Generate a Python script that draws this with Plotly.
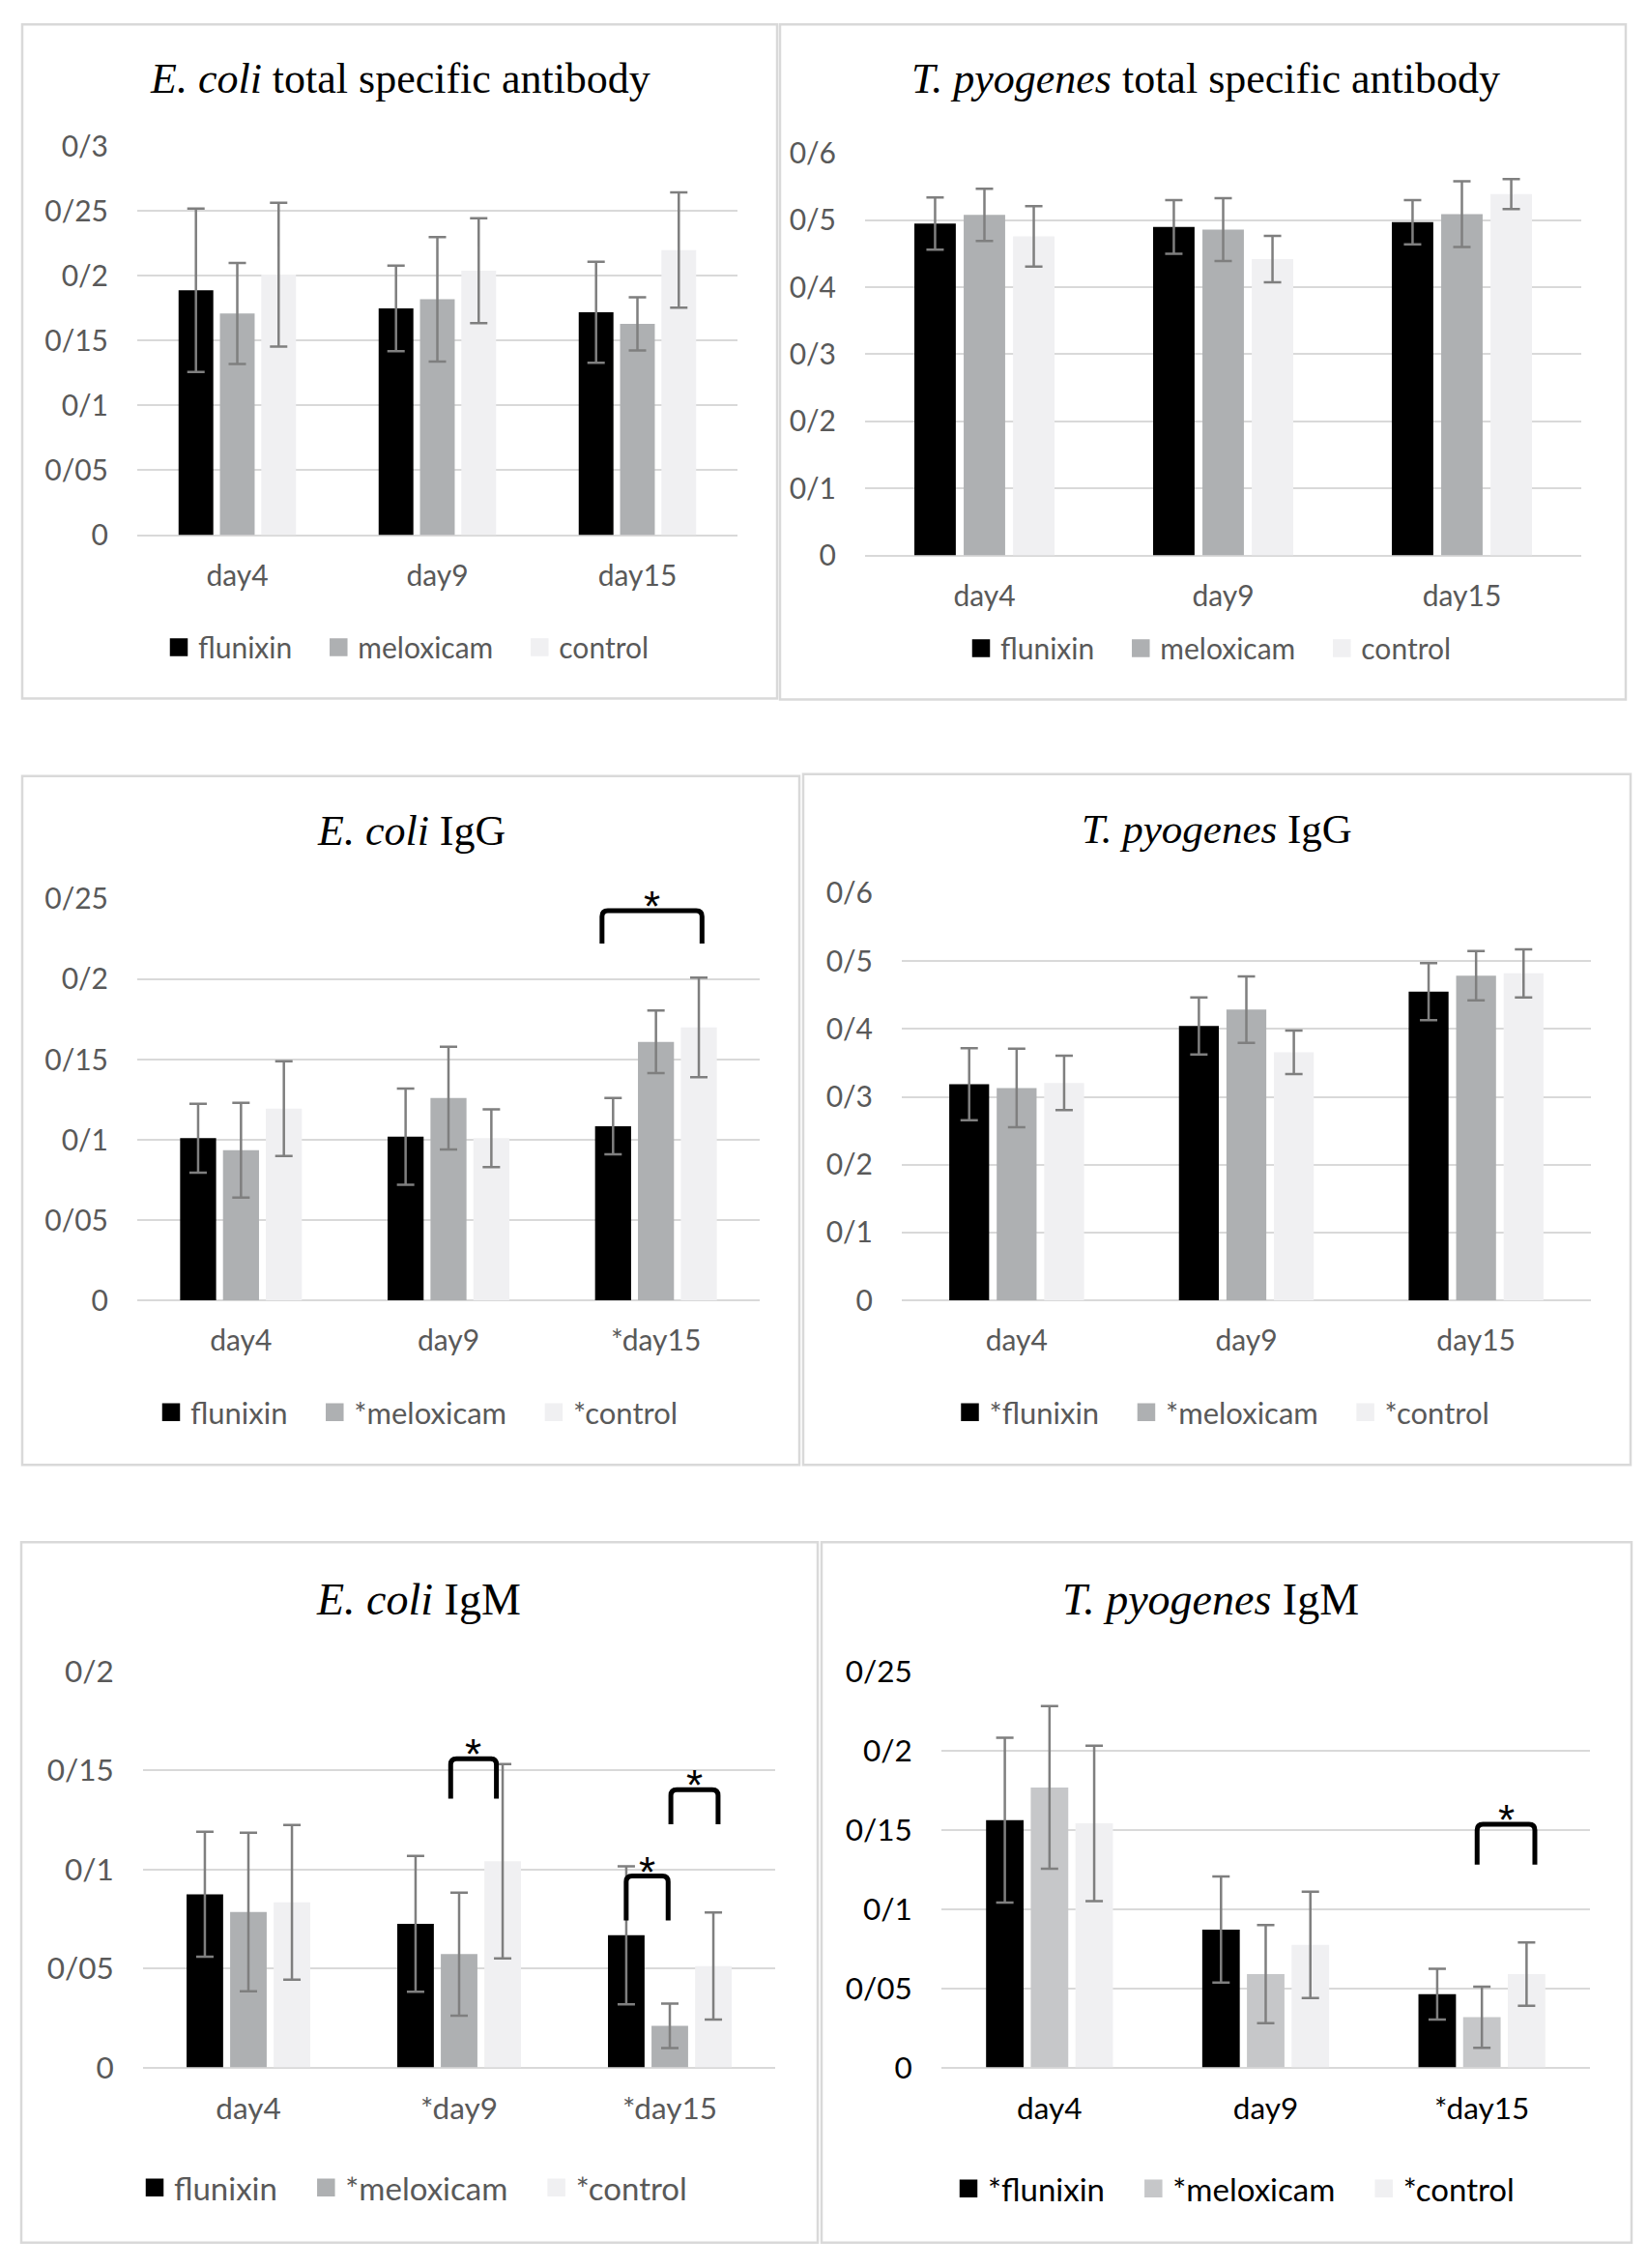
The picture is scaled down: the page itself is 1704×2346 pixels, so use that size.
import plotly.graph_objects as go

W, H = 1704, 2346
# the page body keeps its default 8px margin, so the figure is drawn 16px smaller
OFF = 8
FIG_W, FIG_H = W - 2 * OFF, H - 2 * OFF

######################## data ########################
days = ["day4", "day9", "day15"]
groups = ["flunixin", "meloxicam", "control"]

# E. coli total specific antibody
ecoli_total_flu = [0.189, 0.175, 0.172]
ecoli_total_flu_sd = [0.063, 0.033, 0.039]
ecoli_total_mel = [0.171, 0.182, 0.163]
ecoli_total_mel_sd = [0.039, 0.048, 0.0205]
ecoli_total_con = [0.201, 0.204, 0.220]
ecoli_total_con_sd = [0.0555, 0.0405, 0.0445]

# T. pyogenes total specific antibody
tpyo_total_flu = [0.495, 0.490, 0.497]
tpyo_total_flu_sd = [0.039, 0.040, 0.033]
tpyo_total_mel = [0.508, 0.486, 0.509]
tpyo_total_mel_sd = [0.039, 0.047, 0.049]
tpyo_total_con = [0.476, 0.442, 0.539]
tpyo_total_con_sd = [0.045, 0.0345, 0.0225]

# E. coli IgG
ecoli_igg_days = ["day4", "day9", "*day15"]
ecoli_igg_groups = ["flunixin", "*meloxicam", "*control"]
ecoli_igg_flu = [0.101, 0.102, 0.1085]
ecoli_igg_flu_sd = [0.0215, 0.030, 0.0175]
ecoli_igg_mel = [0.0935, 0.126, 0.161]
ecoli_igg_mel_sd = [0.0295, 0.032, 0.0195]
ecoli_igg_con = [0.1195, 0.101, 0.170]
ecoli_igg_con_sd = [0.0295, 0.018, 0.031]
ecoli_igg_br_x0 = [1.740]
ecoli_igg_br_x1 = [2.222]
ecoli_igg_br_top = [0.2428]
ecoli_igg_br_bot = [0.2223]

# T. pyogenes IgG
tpyo_igg_groups = ["*flunixin", "*meloxicam", "*control"]
tpyo_igg_flu = [0.3185, 0.4045, 0.455]
tpyo_igg_flu_sd = [0.053, 0.042, 0.042]
tpyo_igg_mel = [0.313, 0.4285, 0.4785]
tpyo_igg_mel_sd = [0.058, 0.049, 0.0365]
tpyo_igg_con = [0.3205, 0.3655, 0.482]
tpyo_igg_con_sd = [0.040, 0.032, 0.0355]

# E. coli IgM
ecoli_igm_days = ["day4", "*day9", "*day15"]
ecoli_igm_groups = ["flunixin", "*meloxicam", "*control"]
ecoli_igm_flu = [0.0874, 0.0725, 0.0667]
ecoli_igm_flu_sd = [0.0315, 0.0343, 0.0348]
ecoli_igm_mel = [0.0785, 0.0572, 0.021]
ecoli_igm_mel_sd = [0.040, 0.031, 0.0112]
ecoli_igm_con = [0.0833, 0.1041, 0.0512]
ecoli_igm_con_sd = [0.039, 0.049, 0.027]
ecoli_igm_br_x0 = [0.960, 2.005, 1.793]
ecoli_igm_br_x1 = [1.177, 2.229, 1.992]
ecoli_igm_br_top = [0.1558, 0.1401, 0.0966]
ecoli_igm_br_bot = [0.1357, 0.1227, 0.0742]

# T. pyogenes IgM
tpyo_igm_days = ["day4", "day9", "*day15"]
tpyo_igm_groups = ["*flunixin", "*meloxicam", "*control"]
tpyo_igm_flu = [0.156, 0.087, 0.0462]
tpyo_igm_flu_sd = [0.052, 0.0334, 0.016]
tpyo_igm_mel = [0.1766, 0.0589, 0.0317]
tpyo_igm_mel_sd = [0.0513, 0.031, 0.0193]
tpyo_igm_con = [0.154, 0.0773, 0.0589]
tpyo_igm_con_sd = [0.049, 0.0335, 0.020]
tpyo_igm_br_x0 = [1.978]
tpyo_igm_br_x1 = [2.245]
tpyo_igm_br_top = [0.1534]
tpyo_igm_br_bot = [0.128]

######################## panel setup ########################
GRAY = "#595959"
panels = [
    dict(title="<i>E. coli</i> total specific antibody", days=days, groups=groups,
         means=[ecoli_total_flu, ecoli_total_mel, ecoli_total_con],
         sds=[ecoli_total_flu_sd, ecoli_total_mel_sd, ecoli_total_con_sd],
         colors=["#000000", "#AEB0B2", "#F0F0F2"], ymax=0.3, ystep=0.05, txt=GRAY,
         fs=30, lfs=30, tfs=44,
         box=(23, 25, 804, 722), dom=(142, 763, 151, 553), tpos=(414, 81), lpos=(421, 669),
         br=None),
    dict(title="<i>T. pyogenes</i> total specific antibody", days=days, groups=groups,
         means=[tpyo_total_flu, tpyo_total_mel, tpyo_total_con],
         sds=[tpyo_total_flu_sd, tpyo_total_mel_sd, tpyo_total_con_sd],
         colors=["#000000", "#AEB0B2", "#F0F0F2"], ymax=0.6, ystep=0.1, txt=GRAY,
         fs=30, lfs=30, tfs=44,
         box=(807, 25, 1682, 723), dom=(895, 1636, 158, 574), tpos=(1247, 81), lpos=(1251, 670),
         br=None),
    dict(title="<i>E. coli</i> IgG", days=ecoli_igg_days, groups=ecoli_igg_groups,
         means=[ecoli_igg_flu, ecoli_igg_mel, ecoli_igg_con],
         sds=[ecoli_igg_flu_sd, ecoli_igg_mel_sd, ecoli_igg_con_sd],
         colors=["#000000", "#AEB0B2", "#F0F0F2"], ymax=0.25, ystep=0.05, txt=GRAY,
         fs=30, lfs=31, tfs=44,
         box=(23, 802, 827, 1514), dom=(142, 786, 929, 1344), tpos=(425, 859), lpos=(432, 1460),
         br=(ecoli_igg_br_x0, ecoli_igg_br_x1, ecoli_igg_br_top, ecoli_igg_br_bot)),
    dict(title="<i>T. pyogenes</i> IgG", days=days, groups=tpyo_igg_groups,
         means=[tpyo_igg_flu, tpyo_igg_mel, tpyo_igg_con],
         sds=[tpyo_igg_flu_sd, tpyo_igg_mel_sd, tpyo_igg_con_sd],
         colors=["#000000", "#AEB0B2", "#F0F0F2"], ymax=0.6, ystep=0.1, txt=GRAY,
         fs=30, lfs=31, tfs=43,
         box=(831, 800, 1687, 1514), dom=(933, 1646, 923, 1344), tpos=(1259, 857), lpos=(1265, 1460),
         br=None),
    dict(title="<i>E. coli</i> IgM", days=ecoli_igm_days, groups=ecoli_igm_groups,
         means=[ecoli_igm_flu, ecoli_igm_mel, ecoli_igm_con],
         sds=[ecoli_igm_flu_sd, ecoli_igm_mel_sd, ecoli_igm_con_sd],
         colors=["#000000", "#AEB0B2", "#F0F0F2"], ymax=0.2, ystep=0.05, txt=GRAY,
         fs=31.5, lfs=33, tfs=46,
         box=(22, 1594, 846, 2318), dom=(148, 802, 1727, 2137), tpos=(433, 1653), lpos=(428, 2261),
         br=(ecoli_igm_br_x0, ecoli_igm_br_x1, ecoli_igm_br_top, ecoli_igm_br_bot)),
    dict(title="<i>T. pyogenes</i> IgM", days=tpyo_igm_days, groups=tpyo_igm_groups,
         means=[tpyo_igm_flu, tpyo_igm_mel, tpyo_igm_con],
         sds=[tpyo_igm_flu_sd, tpyo_igm_mel_sd, tpyo_igm_con_sd],
         colors=["#000000", "#C6C7C9", "#F0F0F2"], ymax=0.25, ystep=0.05, txt="#000000",
         fs=31.5, lfs=33, tfs=46,
         box=(850, 1594, 1688, 2318), dom=(974, 1645, 1727, 2137), tpos=(1252, 1653), lpos=(1277, 2262),
         br=(tpyo_igm_br_x0, tpyo_igm_br_x1, tpyo_igm_br_top, tpyo_igm_br_bot)),
]

# vertical placement measured on the photographed page: page_y = 0.983 * y + 20
Y_SCALE, Y_SHIFT = 0.983, 20.0


# page pixel -> paper fraction
def px_x(v):
    return (v - OFF) / FIG_W


def px_y(v):
    v = (v - Y_SHIFT) / Y_SCALE
    return 1 - (v - OFF) / FIG_H


def tick_label(v):
    if v == 0:
        return "0"
    return ("%g" % v).replace("0.", "0/")


fig = go.Figure()
shapes = []
annotations = []
layout = {}

for i, p in enumerate(panels):
    n = "" if i == 0 else str(i + 1)
    xa, ya, lg = "x" + n, "y" + n, "legend" + n
    x0, x1, yt, yb = p["dom"]

    for k in range(3):
        fig.add_trace(go.Bar(
            x=[0, 1, 2], y=p["means"][k], name=p["groups"][k],
            marker=dict(color=p["colors"][k], line=dict(width=0)),
            error_y=dict(type="data", array=p["sds"][k], color="#7F7F7F", thickness=2.5, width=9),
            xaxis=xa, yaxis=ya, showlegend=False))
        # legend-only entry with a bigger square key, padded so entries spread like Excel's
        pad = "\u00a0\u00a0\u00a0" if k < 2 else ""
        fig.add_trace(go.Scatter(
            x=[None], y=[None], mode="markers", name=p["groups"][k] + pad,
            marker=dict(symbol="square", size=16, color=p["colors"][k],
                        line=dict(width=2.5, color=p["colors"][k])),
            xaxis=xa, yaxis=ya, legend=lg, showlegend=True))

    nt = int(round(p["ymax"] / p["ystep"]))
    yv = [round(j * p["ystep"], 3) for j in range(nt + 1)]

    layout["xaxis" + n] = dict(
        domain=[px_x(x0), px_x(x1)], anchor=ya, range=[-0.5, 2.5],
        tickvals=[0, 1, 2], ticktext=p["days"], showgrid=False, zeroline=False,
        showline=False, ticks="outside", ticklen=15, tickcolor="rgba(0,0,0,0)",
        tickfont=dict(family="Lato", size=p["fs"], color=p["txt"]), fixedrange=True)
    layout["yaxis" + n] = dict(
        domain=[px_y(yb), px_y(yt)], anchor=xa, range=[0, p["ymax"] * 1.0005],
        tickvals=yv, ticktext=[tick_label(v) for v in yv],
        showgrid=True, gridcolor="#D9D9D9", gridwidth=2,
        zeroline=True, zerolinecolor="#D9D9D9", zerolinewidth=2, showline=False,
        ticks="outside", ticklen=23, tickcolor="rgba(0,0,0,0)",
        tickfont=dict(family="Lato", size=p["fs"], color=p["txt"]), fixedrange=True)
    layout[lg] = dict(
        orientation="h", x=px_x(p["lpos"][0]), y=px_y(p["lpos"][1]),
        xanchor="center", yanchor="middle", itemsizing="trace", itemwidth=30,
        font=dict(family="Lato", size=p["lfs"], color=p["txt"]),
        bgcolor="rgba(0,0,0,0)", traceorder="normal")

    # panel frame
    bx0, by0, bx1, by1 = p["box"]
    shapes.append(dict(type="rect", xref="paper", yref="paper",
                       x0=px_x(bx0), x1=px_x(bx1), y0=px_y(by1), y1=px_y(by0),
                       line=dict(color="#D9D9D9", width=2.5), layer="below"))

    annotations.append(dict(
        text=p["title"], xref="paper", yref="paper",
        x=px_x(p["tpos"][0]), y=px_y(p["tpos"][1]), xanchor="center", yanchor="middle",
        showarrow=False, font=dict(family="Liberation Serif", size=p["tfs"], color="#000000")))

    # significance brackets
    if p["br"]:
        ux = (x1 - x0) / 3.0
        uy = (yb - yt) / p["ymax"]
        rx, ry = 6 / ux, 6 / uy
        for a, b, top, bot in zip(*p["br"]):
            path = ("M %f,%f L %f,%f Q %f,%f %f,%f L %f,%f Q %f,%f %f,%f L %f,%f" %
                    (a, bot, a, top - ry, a, top, a + rx, top, b - rx, top,
                     b, top, b, top - ry, b, bot))
            shapes.append(dict(type="path", xref=xa, yref=ya, path=path,
                               line=dict(color="#000000", width=5)))
            annotations.append(dict(
                text="*", xref=xa, yref=ya, x=(a + b) / 2, y=top,
                xanchor="center", yanchor="bottom", yshift=-22, showarrow=False,
                font=dict(family="Liberation Sans", size=44, color="#000000")))

fig.update_layout(
    width=FIG_W, height=FIG_H, margin=dict(l=0, r=0, t=0, b=0),
    paper_bgcolor="white", plot_bgcolor="white",
    barmode="group", bargap=0.38, bargroupgap=0.16,
    shapes=shapes, annotations=annotations, hovermode=False,
    **layout)

fig.write_html("out.html")
